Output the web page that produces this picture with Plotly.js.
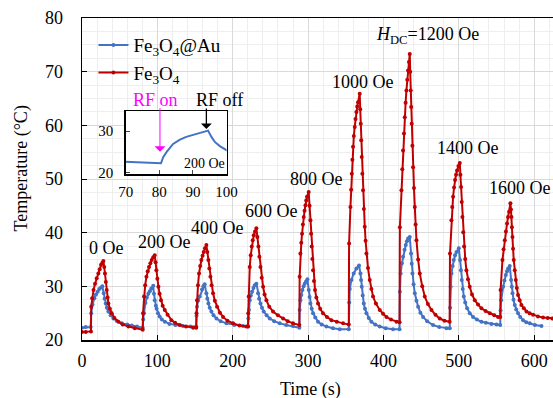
<!DOCTYPE html>
<html>
<head>
<meta charset="utf-8">
<script src="https://cdn.plot.ly/plotly-3.0.1.min.js"></script>
<style>html,body{margin:0;padding:0;overflow:hidden;background:#fff;}#chart{width:610px;height:398px;}</style>
</head>
<body>
<div id="chart"></div>
<script>
// Time (s) and temperature (°C) samples
const fe3o4AuPoints = [
[0,22.3],[5,22.4],[11.5,22.4],
[12.2,25.0],[14,26.6],[16.4,27.8],[18.5,28.5],[20.8,29.0],[23,29.5],[25.3,29.8],[27,30.0],[28.8,28.7],[30,27.7],[31.5,26.8],[33,26.0],[35,25.3],[38,24.6],[41.7,24.0],[46,23.6],[52.7,23.1],[60,22.9],[66,22.7],[73,22.5],[80.5,22.3],
[81.2,23.8],[82.2,25.0],[84.1,26.9],[86,27.9],[88,28.6],[90,29.1],[92,29.6],[94.5,30.1],[95.5,28.6],[96.5,27.4],[98,26.4],[99,25.8],[100.8,25.0],[103,24.4],[106,23.8],[110,23.4],[116,23.0],[124,22.8],[134,22.6],[144,22.5],[151.5,22.5],
[152,24.5],[152.6,26.2],[154,27.3],[156.2,28.1],[159.3,29.4],[161,30.0],[162.8,30.4],[165,28.7],[166.3,27.7],[167.7,26.8],[169.5,26.0],[171.7,25.3],[174.5,24.6],[178.4,24.0],[184,23.5],[191.6,23.1],[202,22.8],[213.7,22.6],[220.3,22.5],
[220.8,24.0],[221.5,25.6],[222.6,27.4],[224,28.3],[225.6,29.0],[227.5,29.7],[229.2,30.2],[231.4,30.5],[233.6,28.7],[235,27.7],[236.8,26.8],[238.8,26.0],[241.1,25.3],[245,24.6],[249.1,24.0],[255,23.5],[262.4,23.1],[271,22.8],[280,22.6],[288.5,22.3],
[288.8,25.6],[289.8,27.4],[291,28.4],[292.4,29.3],[294,30.0],[295.5,30.5],[297.3,30.9],[299.1,31.3],[300.9,29.3],[302,28.0],[303.1,26.8],[304.8,25.8],[306.6,25.0],[309.5,24.2],[313.2,23.4],[318,22.9],[324.3,22.5],[333,22.2],[342,22.0],[354,22.0],
[354.6,27.0],[355.3,29.5],[357.5,31.2],[360.5,32.4],[364.1,33.3],[367.6,33.9],[369.5,32.4],[370.3,31.2],[371.2,29.9],[372.5,28.3],[373.9,26.8],[375.5,25.8],[377.4,25.0],[380.5,24.1],[384,23.4],[389,22.9],[395,22.5],[403,22.2],[412.7,22.0],[421.3,22.0],
[421.8,29.0],[422.8,32.4],[424.5,34.3],[426,35.5],[428,36.8],[429.6,37.7],[431.2,38.4],[432.7,38.9],[434.9,39.2],[436.6,36.1],[437.5,34.2],[438.5,32.4],[440,30.4],[441.6,28.7],[443.8,27.3],[446,26.2],[449,25.1],[452.6,24.3],[458,23.5],[465.8,22.8],[474,22.4],[483.6,22.2],[488,22.2],
[488.5,26.0],[489.2,29.9],[490.2,32.4],[491.8,33.8],[493.3,34.9],[495,35.8],[496.9,36.4],[500,37.1],[501.7,34.9],[502.8,33.0],[503.9,31.2],[505.2,29.5],[506.6,28.1],[508.5,27.0],[511,25.9],[514.5,25.0],[518.9,24.3],[524,23.8],[530,23.4],[536,23.2],[543.3,23.0],[550,22.9],[554.9,22.8],
[555.4,25.5],[556.2,27.4],[558.8,29.9],[560.5,31.1],[562.4,32.1],[564,32.8],[565.4,33.3],[567.6,33.8],[569.4,31.2],[570.3,29.9],[571.2,28.7],[572.6,27.5],[574.2,26.5],[576.2,25.7],[578.6,25.0],[581.5,24.3],[585.3,23.7],[589.5,23.3],[594.2,23.1],[601,22.8],[609.7,22.6]
];
const fe3o4Points = [
[0,21.5],[5,21.5],[11.9,21.6],
[12.2,26.2],[13.5,27.8],[15.3,29.3],[17.3,30.5],[19.5,31.5],[21.7,32.4],[23.5,33.2],[25.3,34.0],[27,34.4],[28.4,34.7],[29.5,33.6],[30.5,32.4],[31.6,30.8],[32.8,29.3],[34,27.9],[35,26.8],[37,25.8],[39.4,25.0],[43,24.1],[48.3,23.4],[54,22.9],[61.6,22.5],[70,22.2],[80.6,21.9],
[81,25.0],[82.3,28.1],[83.8,30.2],[85.5,31.8],[87.2,32.8],[88.9,33.6],[90.7,34.3],[92.5,34.9],[94.5,35.4],[96.5,35.8],[97.6,34.5],[98.7,33.0],[100,31.4],[101.4,29.9],[103,28.6],[104.8,27.4],[107,26.4],[109.8,25.6],[113.5,24.7],[118.6,23.7],[123.5,23.2],[129.7,22.8],[138,22.5],[147.4,22.3],[151.6,22.3],
[152,25.0],[152.6,27.4],[153.9,30.2],[155.3,32.4],[156.8,33.8],[158.4,34.9],[160,35.7],[161.5,36.4],[163.2,37.1],[165,37.7],[166.3,36.4],[167.7,34.9],[169,33.3],[170.4,31.8],[172,30.2],[173.9,28.7],[176.3,27.3],[179.2,26.2],[183,25.1],[187.2,24.3],[193,23.6],[200.4,23.1],[209,22.7],[218,22.5],[220.3,22.5],
[220.6,25.0],[221.2,28.1],[222.6,33.6],[223.9,35.8],[225.2,37.4],[226.5,38.6],[227.9,39.5],[229.6,40.2],[231.4,40.8],[232.7,39.2],[234.1,37.4],[235.4,35.5],[236.8,33.6],[238.5,31.6],[240.3,29.9],[242.3,28.5],[244.7,27.4],[248.5,26.2],[253.5,25.3],[260,24.6],[266.8,24.0],[273,23.5],[280,23.1],[288.4,22.8],
[288.8,31.8],[289.8,36.1],[291,38.1],[292,39.8],[293.1,41.5],[294.2,42.9],[295.3,44.1],[296.5,45.1],[297.5,46.0],[298.6,46.7],[300.8,47.6],[302,45.0],[303.1,42.3],[304,39.8],[304.8,37.4],[305.7,35.1],[306.6,33.0],[307.8,31.0],[309.2,29.3],[311,27.9],[313.2,26.8],[316,25.8],[319.8,25.0],[325,24.3],[331,23.7],[338,23.4],[346.4,23.1],[354,22.9],
[354.4,38.0],[356.2,44.8],[357.1,48.0],[358,51.0],[358.8,53.6],[359.6,56.0],[360.7,58.0],[361.9,59.7],[363,61.2],[364.1,62.5],[365.2,63.5],[366.3,64.3],[368.5,65.9],[369.2,63.0],[369.9,60.3],[370.5,57.2],[371.2,54.1],[372,51.0],[372.9,47.9],[374,44.4],[375.2,41.1],[376.3,38.5],[377.4,36.1],[379.5,33.4],[381.8,31.2],[384,29.5],[386.2,28.1],[390,26.8],[395.1,25.6],[399.5,24.9],[404,24.3],[410,23.8],[417.3,23.4],[421.4,23.3],
[421.8,41.0],[423.9,47.9],[425,51.8],[426,55.3],[427.2,58.5],[428.3,61.5],[429.4,64.2],[430.5,66.5],[431.6,68.5],[432.7,70.2],[433.8,71.8],[434.9,73.3],[435.5,70.0],[436.2,66.5],[436.8,63.4],[437.5,60.3],[438.4,56.2],[439.3,52.2],[440.5,48.3],[441.6,44.8],[442.7,41.5],[443.8,38.6],[446,35.0],[448.2,32.4],[451.5,30.0],[454.8,28.1],[459,26.7],[463.7,25.6],[469,24.7],[474.7,24.0],[481,23.6],[487.8,23.4],
[488.3,36.1],[490.2,42.3],[491.3,44.8],[492.4,46.7],[493.7,48.4],[495,49.8],[496.3,50.8],[497.7,51.6],[499.5,52.4],[501.3,53.0],[502.1,50.8],[503,48.5],[503.9,45.7],[504.8,42.9],[505.9,40.1],[507,37.4],[508.5,35.1],[510.1,33.0],[512.2,31.3],[514.5,29.9],[517.5,28.5],[521.2,27.4],[525.5,26.6],[530,25.9],[535.5,25.4],[541.1,25.0],[547,24.6],[552.1,24.3],[555,24.3],
[555.4,29.3],[557.9,34.9],[559.4,36.9],[561,38.6],[562.5,40.2],[564,41.7],[565.3,42.9],[566.7,43.9],[568.5,45.5],[569.2,44.3],[569.9,42.9],[570.5,41.0],[571.2,39.2],[572,37.0],[572.9,34.9],[574.2,33.0],[575.6,31.2],[577,29.7],[578.6,28.4],[580.7,27.4],[583.1,26.5],[586.3,25.9],[589.8,25.3],[594,25.0],[598.5,24.7],[605,24.4],[611.8,24.2],[618,24.1],[624,24.0],[632,24.0]
];
const seriesNames = ['Fe<sub>3</sub>O<sub>4</sub>@Au', 'Fe<sub>3</sub>O<sub>4</sub>'];
const fieldLabels = ['0 Oe','200 Oe','400 Oe','600 Oe','800 Oe','1000 Oe','<i>H</i><sub>DC</sub>=1200 Oe','1400 Oe','1600 Oe'];
const xTicks = [0,100,200,300,400,500,600];
const yTicks = [20,30,40,50,60,70,80];
const insetXTicks = [70,80,90,100];
const insetYTicks = [20,30];

const auT = fe3o4AuPoints.map(p => p[0]), auY = fe3o4AuPoints.map(p => p[1]);
const feT = fe3o4Points.map(p => p[0]), feY = fe3o4Points.map(p => p[1]);

const BLUE = '#4472C4', RED = '#C00000';
const FONT = '"Liberation Serif", "Times New Roman", serif';

const traces = [
  {x: auT, y: auY, name: seriesNames[0], type: 'scatter', mode: 'lines+markers',
   line: {color: BLUE, width: 2}, marker: {color: BLUE, size: 4}, xaxis: 'x', yaxis: 'y'},
  {x: feT, y: feY, name: seriesNames[1], type: 'scatter', mode: 'lines+markers',
   line: {color: RED, width: 2}, marker: {color: RED, size: 4}, xaxis: 'x', yaxis: 'y'},
  {x: auT, y: auY, type: 'scatter', mode: 'lines', showlegend: false,
   line: {color: BLUE, width: 2}, xaxis: 'x2', yaxis: 'y2', hoverinfo: 'skip'}
];

const labelPos = [[32.4,37.2],[109.8,38.35],[179.4,40.8],[251.3,44.1],[311,50],[372.9,68.1],[458.1,76.8],[512.3,55.7],[580.9,48.3]];
const annotations = fieldLabels.map((t, i) => ({
  text: t, x: labelPos[i][0], y: labelPos[i][1], xref: 'x', yref: 'y',
  showarrow: false, xanchor: 'center', yanchor: 'middle', font: {family: FONT, size: 18, color: '#000'}
}));
annotations.push(
  {text: 'Temperature (°C)', xref: 'paper', yref: 'paper', x: -0.1173, y: 0.5326, textangle: -90,
   showarrow: false, xanchor: 'center', yanchor: 'middle', font: {family: FONT, size: 18, color: '#000'}},
  {text: 'Time (s)', xref: 'x', yref: 'paper', x: 302.6, y: -0.155,
   showarrow: false, xanchor: 'center', yanchor: 'middle', font: {family: FONT, size: 18, color: '#000'}},
  {text: 'RF on', xref: 'paper', yref: 'paper', x: 0.1404, y: 0.745, showarrow: false,
   xanchor: 'center', yanchor: 'middle', font: {family: FONT, size: 18, color: '#FF00FF'}},
  {text: 'RF off', xref: 'paper', yref: 'paper', x: 0.2635, y: 0.745, showarrow: false,
   xanchor: 'center', yanchor: 'middle', font: {family: FONT, size: 18, color: '#000'}},
  {text: '', xref: 'x2', yref: 'y2', x: 80.2, y: 25.05, ax: 0, ay: -45, showarrow: true,
   arrowhead: 1, arrowsize: 1.8, arrowwidth: 1, arrowcolor: '#FF00FF'},
  {text: '', xref: 'x2', yref: 'y2', x: 94.0, y: 30.5, ax: 0, ay: -22, showarrow: true,
   arrowhead: 1, arrowsize: 1.4, arrowwidth: 1.3, arrowcolor: '#000'},
  {text: '200 Oe', xref: 'x2', yref: 'y2', x: 93.4, y: 22.3, showarrow: false,
   xanchor: 'center', yanchor: 'middle', font: {family: FONT, size: 14, color: '#000'}}
);

const layout = {
  width: 610, height: 398,
  margin: {l: 82, r: 8, t: 18, b: 58, pad: 0},
  paper_bgcolor: '#fff', plot_bgcolor: '#fff',
  font: {family: FONT, size: 18, color: '#000'},
  showlegend: true,
  legend: {x: 0.022, y: 0.975, xanchor: 'left', yanchor: 'top', bgcolor: 'rgba(0,0,0,0)',
           font: {family: FONT, size: 19, color: '#000'}, tracegroupgap: 0, itemwidth: 30},
  xaxis: {range: [0, 690], tickvals: xTicks, ticks: 'inside', ticklen: 5, tickcolor: '#000',
          showline: true, linecolor: '#000', linewidth: 1.5, mirror: true, zeroline: false,
          showgrid: true, gridcolor: '#d9d9d9', gridwidth: 1, ticklabelstandoff: 4,
          minor: {dtick: 20, showgrid: true, gridcolor: '#eeeeee', ticks: ''},
          tickfont: {family: FONT, size: 18}, domain: [0, 1]},
  yaxis: {range: [20, 80], tickvals: yTicks, ticks: 'inside', ticklen: 5, tickcolor: '#000',
          showline: true, linecolor: '#000', linewidth: 1.5, mirror: true, zeroline: false,
          showgrid: true, gridcolor: '#d9d9d9', gridwidth: 1, ticklabelstandoff: 14,
          minor: {dtick: 2.5, showgrid: true, gridcolor: '#eeeeee', ticks: ''},
          tickfont: {family: FONT, size: 18}, domain: [0, 1]},
  xaxis2: {domain: [0.084, 0.278], anchor: 'y2', range: [70, 100], tickvals: insetXTicks,
           ticks: 'inside', ticklen: 4, showline: true, linecolor: '#000', linewidth: 1.5, mirror: true,
           showgrid: false, zeroline: false, tickfont: {family: FONT, size: 15}, ticklabelstandoff: 3},
  yaxis2: {domain: [0.5155, 0.711], anchor: 'x2', range: [19.7, 34.8], tickvals: insetYTicks,
           ticks: 'inside', ticklen: 4, showline: true, linecolor: '#000', linewidth: 1.5, mirror: true,
           showgrid: false, zeroline: false, tickfont: {family: FONT, size: 15}, ticklabelstandoff: 8},
  annotations: annotations
};

Plotly.newPlot('chart', traces, layout, {displayModeBar: false, staticPlot: true});
</script>
</body>
</html>
